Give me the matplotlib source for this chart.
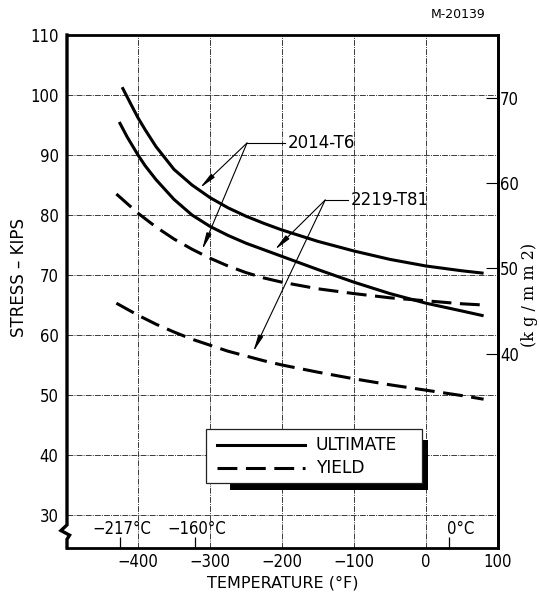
import matplotlib
matplotlib.use("Agg")
import matplotlib.pyplot as plt
from matplotlib.patches import Rectangle
from matplotlib.lines import Line2D

# ---------------- data ----------------
# 2014-T6 ultimate (upper solid)
t6_ult_F = [-422, -410, -400, -390, -375, -350, -325, -300, -275, -250, -225, -200,
            -150, -100, -50, 0, 50, 80]
t6_ult_S = [101.3, 98.5, 96.2, 94.2, 91.4, 87.6, 85.0, 82.9, 81.2, 79.8, 78.6, 77.5,
            75.6, 74.0, 72.6, 71.5, 70.7, 70.3]
# 2219-T81 ultimate (lower solid)
t81_ult_F = [-426, -415, -400, -390, -375, -350, -325, -300, -275, -250, -225, -200,
             -150, -100, -50, 0, 50, 80]
t81_ult_S = [95.5, 93.0, 90.0, 88.2, 85.9, 82.6, 80.0, 78.1, 76.6, 75.3, 74.2, 73.1,
             70.9, 68.8, 66.9, 65.3, 64.0, 63.2]
# 2014-T6 yield (upper dashed)
t6_yld_F = [-430, -415, -400, -375, -350, -325, -300, -275, -250, -225, -200,
            -150, -100, -50, 0, 50, 80]
t6_yld_S = [83.5, 81.9, 80.3, 78.0, 76.0, 74.3, 72.8, 71.5, 70.4, 69.5, 68.8,
            67.7, 66.9, 66.2, 65.7, 65.2, 65.0]
# 2219-T81 yield (lower dashed)
t81_yld_F = [-430, -415, -400, -375, -350, -325, -300, -275, -250, -225, -200,
             -150, -100, -50, 0, 50, 80]
t81_yld_S = [65.3, 64.3, 63.3, 61.8, 60.5, 59.3, 58.3, 57.3, 56.5, 55.7, 55.0,
             53.8, 52.7, 51.7, 50.8, 49.9, 49.3]

x_ticks = [-400, -300, -200, -100, 0, 100]
x_ticklabels = ["\u2212400", "\u2212300", "\u2212200", "\u2212100", "0", "100"]
y_ticks = [30, 40, 50, 60, 70, 80, 90, 100, 110]
kg_ticks = [40, 50, 60, 70]
celsius_tick_F = [-425, -321, 32]
celsius_labels = ["\u2212217\u00b0C", "\u2212160\u00b0C", "0\u00b0C"]
KSI_PER_KGMM2 = 1.42233

# ---------------- styling ----------------
SANS = ['DejaVu Sans']
NARROW = dict(family=['DejaVu Sans'], stretch='condensed')

fig = plt.figure(figsize=(5.39, 5.96), dpi=100)
ax = fig.add_axes([67/539, 1-548/596, (498-67)/539, (548-35)/596])
ax.set_xlim(-498.6, 100)
ax.set_ylim(24.5, 110)

# grid
grid_kw = dict(color='#3a3a3a', lw=0.7, ls=(0, (6, 1.2, 1, 1.2)), zorder=1)
for x in x_ticks[:-1]:
    ax.axvline(x, **grid_kw)
for y in y_ticks[:-1]:
    ax.axhline(y, **grid_kw)

# curves
lw = 2.2
dash = (6.5, 2.8)
ax.plot(t6_ult_F, t6_ult_S, color='black', lw=lw, solid_capstyle='butt', zorder=3)
ax.plot(t81_ult_F, t81_ult_S, color='black', lw=lw, solid_capstyle='butt', zorder=3)
ax.plot(t6_yld_F, t6_yld_S, color='black', lw=lw, dashes=dash, zorder=3)
ax.plot(t81_yld_F, t81_yld_S, color='black', lw=lw, dashes=dash, zorder=3)

# ticks
ax.set_xticks(x_ticks)
ax.set_xticklabels(x_ticklabels, fontsize=12, **NARROW)
ax.set_yticks(y_ticks)
ax.set_yticklabels([str(v) for v in y_ticks], fontsize=12, **NARROW)
ax.tick_params(axis='both', which='major', length=0)
ax.tick_params(axis='x', pad=3.5)
ax.tick_params(axis='y', pad=6)
ax.set_xticks(celsius_tick_F, minor=True)
ax.tick_params(axis='x', which='minor', direction='in', length=8, width=0.9, color='black')

for xf, lab, dx in zip(celsius_tick_F, celsius_labels, [3, 3, 16]):
    ax.text(xf + dx, 27.6, lab, ha='center', va='center', fontsize=12, zorder=4, **NARROW)

# spines
for s in ['top', 'right', 'bottom']:
    ax.spines[s].set_linewidth(2.0)
ax.spines['left'].set_visible(False)
lx = [0, 0, -0.014, 0.006, 0, 0]
ly = [1, 0.045, 0.034, 0.025, 0.017, 0]
ax.add_line(Line2D(lx, ly, transform=ax.transAxes, color='black', lw=2.4,
                   clip_on=False, solid_joinstyle='miter', zorder=5))

# secondary axis (kg/mm2)
sec = ax.secondary_yaxis('right', functions=(lambda s: s / KSI_PER_KGMM2,
                                             lambda k: k * KSI_PER_KGMM2))
sec.set_yticks(kg_ticks)
sec.set_yticklabels([str(v) for v in kg_ticks], fontsize=12, **NARROW)
sec.tick_params(direction='in', length=9, width=0.8, pad=1.5)
sec.spines['right'].set_linewidth(2.0)

# axis labels
fig.text(283/539, 1-583/596, "TEMPERATURE (\u00b0F)", ha='center', va='center',
         family=SANS, fontsize=11.5)
fig.text(19/539, 1-278/596, "STRESS \u2013 KIPS", rotation=90, ha='center', va='center',
         family=SANS, fontsize=12)
fig.text(529/539, 1-295/596, "(k g / m m 2)", rotation=90, ha='center', va='center',
         family=['DejaVu Serif'], fontsize=11.5)
fig.text(458/539, 1-14/596, "M-20139", ha='center', va='center', family=SANS, fontsize=9)

# annotations
arrow_kw = dict(arrowstyle='-|>,head_width=0.15,head_length=1.0', lw=0.8, color='black',
                shrinkA=0, shrinkB=0, mutation_scale=10)
j1 = (-248.6, 92.0)
ax.plot([j1[0], -196], [j1[1], j1[1]], color='black', lw=0.8, zorder=4)
ax.text(-192, 92.0, "2014-T6", ha='left', va='center', family=SANS, fontsize=12)
ax.annotate("", xy=(-314, 84.5), xytext=j1, arrowprops=arrow_kw, zorder=4)
ax.annotate("", xy=(-311, 74.2), xytext=j1, arrowprops=arrow_kw, zorder=4)

j2 = (-140, 82.5)
ax.plot([j2[0], -108], [j2[1], j2[1]], color='black', lw=0.8, zorder=4)
ax.text(-104, 82.5, "2219-T81", ha='left', va='center', family=SANS, fontsize=12)
ax.annotate("", xy=(-210, 74.2), xytext=j2, arrowprops=arrow_kw, zorder=4)
ax.annotate("", xy=(-240, 57.2), xytext=j2, arrowprops=arrow_kw, zorder=4)

# legend (hand-drawn box with shadow)
ax.add_patch(Rectangle((-272, 34.2), 274.8, 1.2, color='black', lw=0, zorder=5))
ax.add_patch(Rectangle((-5.6, 34.2), 8.4, 8.3, color='black', lw=0, zorder=5))
ax.add_patch(Rectangle((-305.6, 35.3), 300, 9.0, facecolor='white', edgecolor='#222222',
                       lw=0.9, zorder=6))
ax.add_line(Line2D([-290, -168], [41.7, 41.7], color='black', lw=lw, zorder=7))
ax.add_line(Line2D([-290, -168], [37.8, 37.8], color='black', lw=lw, dashes=dash, zorder=7))
ax.text(-153, 41.7, "ULTIMATE", ha='left', va='center', family=SANS, fontsize=12.3, zorder=7)
ax.text(-153, 37.8, "YIELD", ha='left', va='center', family=SANS, fontsize=12.3, zorder=7)

fig.savefig("out.png", dpi=100, facecolor='white')
